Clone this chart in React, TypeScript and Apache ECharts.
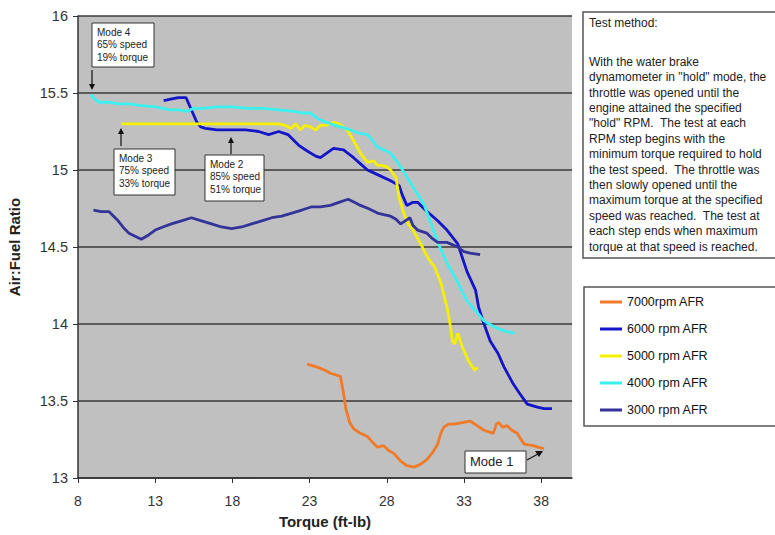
import React, { useEffect, useRef } from "react";
import * as echarts from "echarts";

const seriesNames = ["7000rpm AFR", "6000 rpm AFR", "5000 rpm AFR", "4000 rpm AFR", "3000 rpm AFR"];
const seriesColors = ["#F07A28", "#1414C8", "#F4F000", "#3CF0F0", "#333399"];

const xTickValues = [8, 13, 18, 23, 28, 33, 38];

const rpm7000: [number, number][] = [
  [22.85, 13.74], [23.5, 13.72], [24.0, 13.7], [24.35, 13.68], [25.0, 13.66], [25.2, 13.55], [25.35, 13.45],
  [25.6, 13.36], [25.85, 13.32], [26.3, 13.29], [26.75, 13.27], [27.1, 13.23], [27.4, 13.2], [27.8, 13.21],
  [28.1, 13.18], [28.45, 13.16], [28.9, 13.11], [29.3, 13.08], [29.75, 13.07], [30.2, 13.09], [30.6, 13.12],
  [31.0, 13.17], [31.3, 13.22], [31.5, 13.29], [31.7, 13.33], [32.0, 13.35], [32.35, 13.35], [32.9, 13.36],
  [33.4, 13.37], [33.85, 13.34], [34.3, 13.31], [34.9, 13.29], [35.1, 13.35], [35.25, 13.36], [35.5, 13.33],
  [35.8, 13.34], [36.1, 13.31], [36.45, 13.29], [36.7, 13.25], [36.9, 13.22], [37.5, 13.21], [37.8, 13.2],
  [38.2, 13.19],
];

const rpm6000: [number, number][] = [
  [13.55, 15.45], [14.0, 15.46], [14.5, 15.47], [15.0, 15.47], [15.35, 15.39], [15.7, 15.31], [15.95, 15.28],
  [16.25, 15.27], [17.0, 15.26], [17.75, 15.26], [18.85, 15.26], [19.7, 15.25], [20.35, 15.23], [21.0, 15.25],
  [21.6, 15.23], [22.3, 15.16], [22.9, 15.12], [23.4, 15.09], [23.7, 15.08], [24.55, 15.14], [25.2, 15.13],
  [25.85, 15.08], [26.3, 15.04], [26.75, 15.0], [27.4, 14.97], [28.25, 14.93], [28.8, 14.9], [29.0, 14.84],
  [29.3, 14.77], [29.7, 14.79], [30.0, 14.79], [30.5, 14.74], [31.3, 14.67], [31.9, 14.61], [32.6, 14.52],
  [32.9, 14.43], [33.2, 14.34], [33.75, 14.22], [33.95, 14.11], [34.3, 14.0], [34.7, 13.89], [35.2, 13.81],
  [35.6, 13.72], [36.2, 13.61], [36.6, 13.55], [37.1, 13.48], [37.75, 13.46], [38.2, 13.45], [38.7, 13.45],
];

const rpm5000: [number, number][] = [
  [10.8, 15.3], [12.0, 15.3], [14.0, 15.3], [16.0, 15.3], [18.0, 15.3], [20.0, 15.3], [21.0, 15.3],
  [21.4, 15.29], [21.8, 15.27], [22.1, 15.3], [22.4, 15.26], [22.7, 15.29], [23.05, 15.28], [23.4, 15.26],
  [23.7, 15.29], [24.1, 15.29], [24.55, 15.31], [24.9, 15.3], [25.2, 15.28], [25.5, 15.25], [25.85, 15.19],
  [26.3, 15.11], [26.75, 15.05], [27.15, 15.06], [27.4, 15.03], [27.7, 15.03], [28.0, 15.02], [28.25, 15.0],
  [28.6, 14.95], [28.8, 14.82], [29.1, 14.72], [29.4, 14.65], [29.7, 14.61], [30.2, 14.52], [30.5, 14.46],
  [30.8, 14.41], [31.1, 14.37], [31.5, 14.27], [31.9, 14.11], [32.1, 14.0], [32.25, 13.89], [32.4, 13.87],
  [32.6, 13.94], [32.9, 13.85], [33.3, 13.76], [33.7, 13.7], [33.9, 13.72],
];

const rpm4000: [number, number][] = [
  [8.8, 15.49], [9.0, 15.47], [9.35, 15.44], [10.0, 15.44], [10.6, 15.43], [11.3, 15.43], [12.0, 15.42],
  [13.0, 15.41], [14.0, 15.39], [14.5, 15.39], [15.0, 15.38], [15.5, 15.4], [16.1, 15.4], [17.0, 15.41],
  [18.0, 15.41], [19.0, 15.4], [20.0, 15.4], [21.0, 15.39], [22.0, 15.38], [22.6, 15.37], [23.05, 15.37],
  [23.6, 15.33], [24.35, 15.3], [25.0, 15.28], [25.65, 15.26], [26.2, 15.24], [26.75, 15.23], [27.1, 15.19],
  [27.4, 15.15], [28.25, 15.11], [28.9, 15.02], [29.7, 14.89], [30.4, 14.78], [30.8, 14.67], [31.2, 14.56],
  [31.6, 14.46], [32.1, 14.36], [32.6, 14.27], [33.2, 14.15], [33.9, 14.07], [34.3, 14.02], [34.8, 13.99],
  [35.2, 13.97], [35.8, 13.95], [36.3, 13.94],
];

const rpm3000: [number, number][] = [
  [9.0, 14.74], [9.5, 14.73], [10.0, 14.73], [10.6, 14.67], [11.0, 14.62], [11.3, 14.59], [11.7, 14.57],
  [12.1, 14.55], [12.6, 14.58], [13.0, 14.61], [13.5, 14.63], [14.05, 14.65], [14.7, 14.67], [15.35, 14.69],
  [16.0, 14.67], [16.65, 14.65], [17.3, 14.63], [17.95, 14.62], [18.6, 14.63], [19.25, 14.65], [19.9, 14.67],
  [20.55, 14.69], [21.2, 14.7], [21.85, 14.72], [22.5, 14.74], [23.1, 14.76], [23.7, 14.76], [24.35, 14.77],
  [24.9, 14.79], [25.5, 14.81], [25.9, 14.79], [26.3, 14.77], [26.8, 14.75], [27.4, 14.72], [27.8, 14.71],
  [28.25, 14.7], [28.6, 14.68], [28.9, 14.65], [29.2, 14.67], [29.5, 14.69], [29.7, 14.64], [30.0, 14.61],
  [30.6, 14.59], [30.9, 14.56], [31.3, 14.53], [31.9, 14.53], [32.6, 14.5], [33.0, 14.47], [33.4, 14.46],
  [34.05, 14.45],
];

const seriesData = [rpm7000, rpm6000, rpm5000, rpm4000, rpm3000];

const noteTitle = "Test method:";
const noteLines = [
  "With the water brake",
  "dynamometer in \"hold\" mode, the",
  "throttle was opened until the",
  "engine attained the specified",
  "\"hold\" RPM.  The test at each",
  "RPM step begins with the",
  "minimum torque required to hold",
  "the test speed.  The throttle was",
  "then slowly opened until the",
  "maximum torque at the specified",
  "speed was reached.  The test at",
  "each step ends when maximum",
  "torque at that speed is reached.",
];

const FONT = "'Liberation Sans', Arial, sans-serif";

function modeBox(x: number, y: number, w: number, h: number, text: string, size: number, lh: number) {
  return [
    {
      type: "rect",
      z: 20,
      shape: { x, y, width: w, height: h },
      style: { fill: "#ffffff", stroke: "#333333", lineWidth: 1 },
    },
    {
      type: "text",
      z: 21,
      x: x + 5,
      y: y + 3,
      style: { text, fill: "#222222", font: `${size}px ${FONT}`, lineHeight: lh },
    },
  ];
}

function arrowV(x: number, y1: number, y2: number) {
  const dir = y2 > y1 ? 1 : -1;
  return [
    { type: "line", z: 20, shape: { x1: x, y1, x2: x, y2: y2 - dir * 4 }, style: { stroke: "#111", lineWidth: 1.2 } },
    {
      type: "polygon",
      z: 20,
      shape: { points: [[x - 3, y2 - dir * 6], [x + 3, y2 - dir * 6], [x, y2]] },
      style: { fill: "#111" },
    },
  ];
}

export default function App() {
  const ref = useRef<HTMLDivElement>(null);
  useEffect(() => {
    if (!ref.current) return;
    const chart = echarts.init(ref.current, null, { renderer: "svg" });
    const graphic: any[] = [
      {
        type: "rect",
        z: 0,
        shape: { x: 583, y: 12, width: 200, height: 246 },
        style: { fill: "#ffffff", stroke: "#555555", lineWidth: 1.5 },
      },
      {
        type: "text",
        z: 1,
        x: 589,
        y: 17,
        style: { text: noteTitle, fill: "#222222", font: `12px ${FONT}` },
      },
      {
        type: "text",
        z: 1,
        x: 589,
        y: 54,
        style: { text: noteLines.join("\n"), fill: "#222222", font: `12px ${FONT}`, lineHeight: 15.4 },
      },
      {
        type: "rect",
        z: 0,
        shape: { x: 584, y: 287, width: 200, height: 139 },
        style: { fill: "#ffffff", stroke: "#555555", lineWidth: 1.5 },
      },
      ...modeBox(92, 23, 62, 44, "Mode 4\n65% speed\n19% torque", 10, 12.5),
      ...arrowV(92, 70, 90),
      ...modeBox(114, 149, 61, 46, "Mode 3\n75% speed\n33% torque", 10, 12.5),
      ...arrowV(121, 146, 128),
      ...modeBox(205, 155, 59, 46, "Mode 2\n85% speed\n51% torque", 10, 12.5),
      ...arrowV(231, 154, 137),
      {
        type: "rect",
        z: 20,
        shape: { x: 465, y: 451, width: 61, height: 22 },
        style: { fill: "#ffffff", stroke: "#333333", lineWidth: 1 },
      },
      {
        type: "text",
        z: 21,
        x: 470,
        y: 455,
        style: { text: "Mode 1", fill: "#222222", font: `13px ${FONT}` },
      },
      { type: "line", z: 20, shape: { x1: 527, y1: 460, x2: 538, y2: 454 }, style: { stroke: "#111", lineWidth: 1.2 } },
      {
        type: "polygon",
        z: 20,
        shape: { points: [[543, 451], [535, 451], [539, 457]] },
        style: { fill: "#111" },
      },
    ];

    chart.setOption({
      animation: false,
      backgroundColor: "#ffffff",
      textStyle: { fontFamily: FONT },
      grid: {
        left: 78,
        right: 203,
        top: 16,
        bottom: 57,
        show: true,
        backgroundColor: "#C0C0C0",
        borderWidth: 0,
        containLabel: false,
        outerBoundsMode: "none",
      },
      legend: {
        orient: "vertical",
        left: 600,
        top: 295,
        itemWidth: 22,
        itemHeight: 3,
        itemGap: 13,
        icon: "rect",
        padding: 0,
        data: seriesNames,
        selectedMode: false,
        textStyle: { fontSize: 12.5, color: "#111111", fontFamily: FONT, lineHeight: 14 },
      },
      xAxis: {
        type: "value",
        min: 8,
        max: 40,
        name: "Torque (ft-lb)",
        nameLocation: "middle",
        nameGap: 36,
        nameTextStyle: { fontSize: 15, fontWeight: "bold", color: "#222222", fontFamily: FONT },
        axisLine: { show: true, lineStyle: { color: "#333333", width: 1.5 } },
        axisTick: { show: true, length: 5, customValues: xTickValues, lineStyle: { color: "#333333" } },
        axisLabel: { customValues: xTickValues, fontSize: 14, color: "#333333", margin: 16, fontFamily: FONT },
        splitLine: { show: false },
      },
      yAxis: {
        type: "value",
        min: 13,
        max: 16,
        interval: 0.5,
        name: "Air:Fuel Ratio",
        nameLocation: "middle",
        nameGap: 56,
        nameTextStyle: { fontSize: 15, fontWeight: "bold", color: "#222222", fontFamily: FONT },
        axisLine: { show: true, lineStyle: { color: "#333333", width: 1.5 } },
        axisTick: { show: true, length: 5, lineStyle: { color: "#333333" } },
        axisLabel: { fontSize: 14.5, color: "#333333", margin: 10, fontFamily: FONT },
        splitLine: { show: true, lineStyle: { color: "#3a3a3a", width: 1.5 } },
      },
      series: seriesNames.map((name, i) => ({
        name,
        type: "line",
        data: seriesData[i],
        showSymbol: false,
        symbol: "none",
        color: seriesColors[i],
        lineStyle: { color: seriesColors[i], width: 2.8 },
        z: 2 + i,
      })),
      graphic,
    });
    return () => chart.dispose();
  }, []);
  return (
    <div
      ref={ref}
      style={{ position: "fixed", left: 0, top: 0, width: 775, height: 535 }}
    />
  );
}
